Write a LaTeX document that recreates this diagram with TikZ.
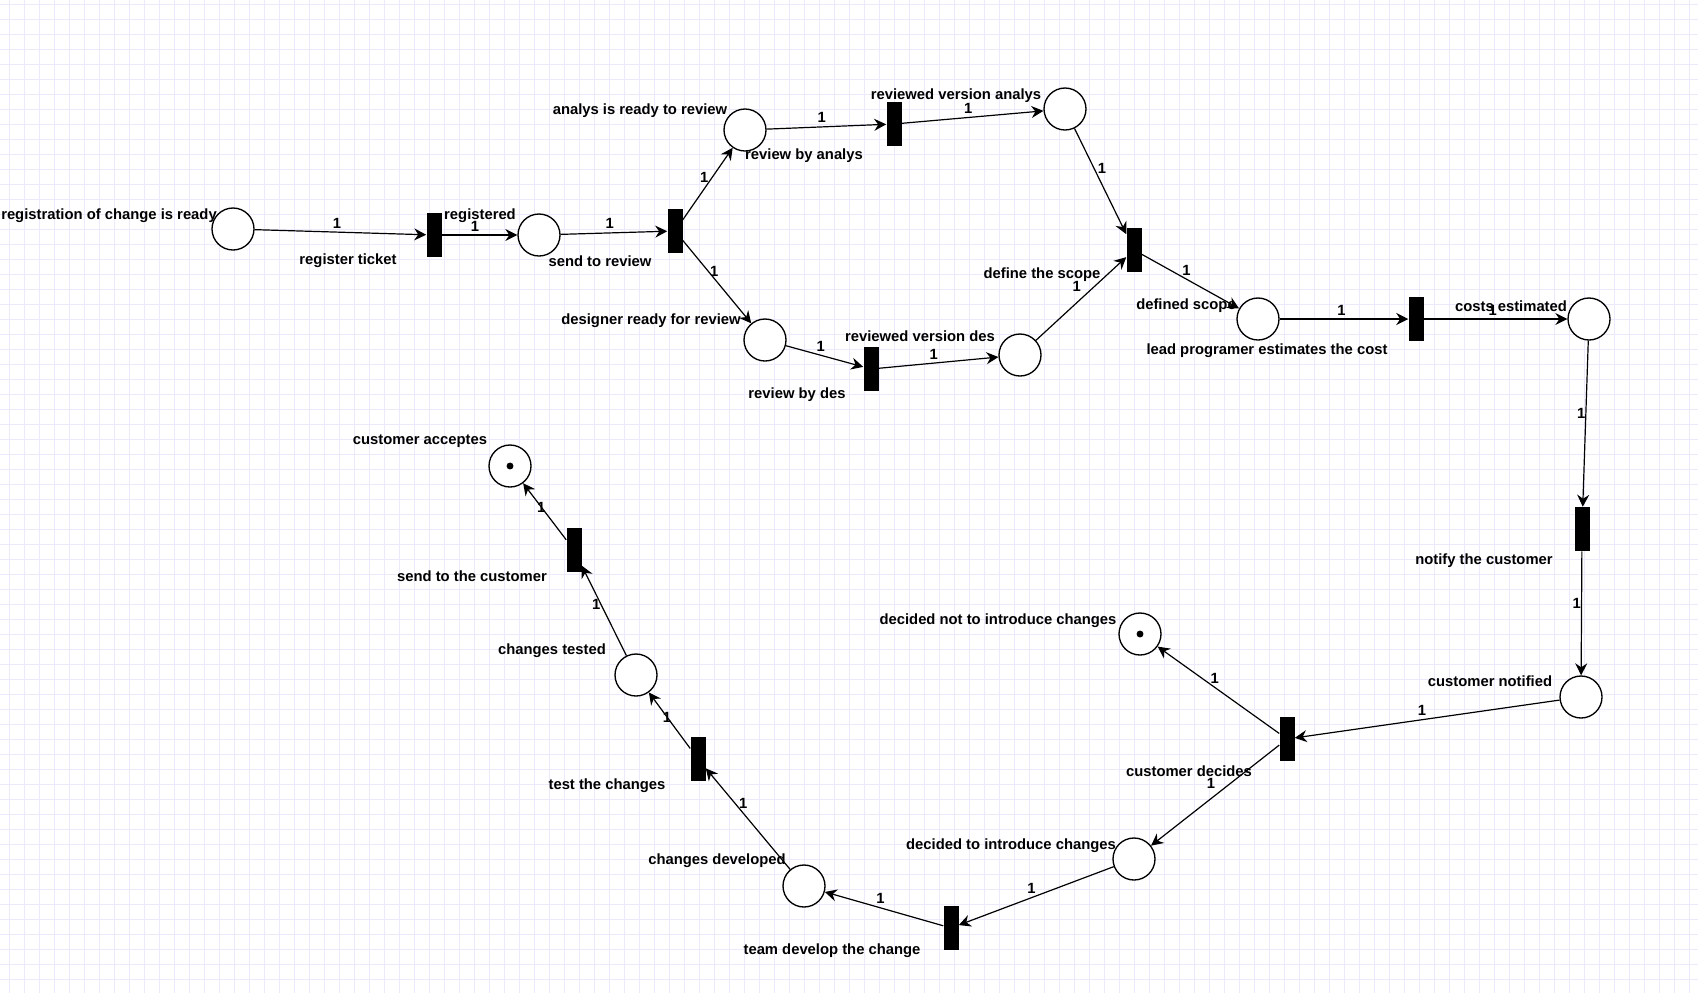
\documentclass[tikz,border=0pt]{standalone}
\usepackage{fontspec}
\setmainfont{Liberation Sans}
\usetikzlibrary{arrows.meta}
\definecolor{gridcol}{RGB}{236,233,252}

\begin{document}
\begin{tikzpicture}[x=0.75pt, y=-0.75pt,
    every node/.style={font=\fontsize{11.1}{13}\selectfont\bfseries},
    pnode/.style={circle, draw, line width=1pt, fill=white, minimum size=31.5pt, inner sep=0pt},
    tbar/.style={rectangle, fill=black, minimum width=11.25pt, minimum height=33pt, inner sep=0pt},
    flow/.style={line width=0.9pt, -{Stealth[length=9pt,width=9pt,inset=3pt]}},
    wt/.style={inner sep=2.5pt}]

    % Background and grid
    \fill[white] (0,0) rectangle (1698,993);
    \useasboundingbox (0,0) rectangle (1698,993);
    \foreach \gx in {9.5,24.5,...,1698}
        \draw[gridcol, line width=0.75pt] (\gx,0) -- (\gx,993);
    \foreach \gy in {4,19,...,993}
        \draw[gridcol, line width=0.75pt] (0,\gy) -- (1698,\gy);

    % Places
    \node[pnode] (ready) at (233,229) {};
    \node[pnode] (registered) at (539,235) {};
    \node[pnode] (analysready) at (745,130) {};
    \node[pnode] (analysdone) at (1065,109) {};
    \node[pnode] (desready) at (765,340) {};
    \node[pnode] (desdone) at (1020,355) {};
    \node[pnode] (scoped) at (1258,319) {};
    \node[pnode] (costs) at (1589,319) {};
    \node[pnode] (notified) at (1581,697) {};
    \node[pnode] (notnew) at (1140,634) {};
    \node[pnode] (tonew) at (1134,859) {};
    \node[pnode] (developed) at (804,886) {};
    \node[pnode] (tested) at (636,675) {};
    \node[pnode] (accepted) at (510,466) {};

    % Tokens
    \fill (notnew) circle[radius=2.6pt];
    \fill (accepted) circle[radius=2.6pt];

    % Transitions
    \node[tbar] (regticket) at (434,235) {};
    \node[tbar] (sendrev) at (675,231) {};
    \node[tbar] (revanalys) at (894,124) {};
    \node[tbar] (revdes) at (871,369) {};
    \node[tbar] (defscope) at (1134,250) {};
    \node[tbar] (estcost) at (1416,319) {};
    \node[tbar] (notify) at (1582,529) {};
    \node[tbar] (decides) at (1287,739) {};
    \node[tbar] (develop) at (951,928) {};
    \node[tbar] (testchg) at (698,759) {};
    \node[tbar] (sendcust) at (574,550) {};

    % Labels
    \node (ready-l) at (109,216) {registration of change is ready};
    \node (regticket-l) at (348,261) {register ticket};
    \node (registered-l) at (480,216) {registered};
    \node (sendrev-l) at (600,261) {send to review};
    \node (analysready-l) at (640,111) {analys is ready to review};
    \node (desready-l) at (651,321) {designer ready for review};
    \node (revanalys-l) at (804,156) {review by analys};
    \node (analysdone-l) at (956,96) {reviewed version analys};
    \node (desdone-l) at (920,336) {reviewed version des};
    \node (revdes-l) at (797,395) {review by des};
    \node (defscope-l) at (1042,275) {define the scope};
    \node (scoped-l) at (1186,306) {defined scope};
    \node (estcost-l) at (1267,351) {lead programer estimates the cost};
    \node (costs-l) at (1511,306) {costs estimated};
    \node (notify-l) at (1484,561) {notify the customer};
    \node (notified-l) at (1490,681) {customer notified};
    \node (notnew-l) at (998,621) {decided not to introduce changes};
    \node (decides-l) at (1189,771) {customer decides};
    \node (tonew-l) at (1011,846) {decided to introduce changes};
    \node (develop-l) at (832,951) {team develop the change};
    \node (developed-l) at (717,861) {changes developed};
    \node (testchg-l) at (607,786) {test the changes};
    \node (tested-l) at (552,651) {changes tested};
    \node (sendcust-l) at (472,576) {send to the customer};
    \node (accepted-l) at (420,441) {customer acceptes};

    % Arcs
    \draw[flow] (ready) -- node[wt, pos=.48, above] {1} (regticket);
    \draw[flow] (regticket) -- node[wt, pos=.44, above] {1} (registered);
    \draw[flow] (registered) -- node[wt, pos=.46, above] {1} (sendrev);
    \draw[flow] (sendrev) -- node[wt, pos=.59, left] {1} (analysready);
    \draw[flow] (sendrev) -- node[wt, pos=.37, right, inner sep=1pt] {1} (desready);
    \draw[flow] (analysready) -- node[wt, pos=.46, above] {1} (revanalys);
    \draw[flow] (revanalys) -- node[wt, pos=.47, above] {1} (analysdone);
    \draw[flow] (analysdone) -- node[wt, pos=.375, right] {1} (defscope);
    \draw[flow] (desready) -- node[wt, pos=.45, above] {1} (revdes);
    \draw[flow] (revdes) -- node[wt, pos=.46, above] {1} (desdone);
    \draw[flow] (desdone) -- node[wt, pos=.54, above left] {1} (defscope);
    \draw[flow] (defscope) -- node[wt, pos=.46, above] {1} (scoped);
    \draw[flow] (scoped) -- node[wt, pos=.48, above] {1} (estcost);
    \draw[flow] (estcost) -- node[wt, pos=.48, above] {1} (costs);
    \draw[flow] (costs) -- node[wt, pos=.44, left, inner sep=0pt] {1} (notify);
    \draw[flow] (notify) -- node[wt, pos=.42, left, inner sep=0pt] {1} (notified);
    \draw[flow] (notified) -- node[wt, pos=.52, above] {1} (decides);
    \draw[flow] (decides) -- node[wt, pos=.53, above] {1} (notnew);
    \draw[flow] (decides) -- node[wt, pos=.47, above left] {1} (tonew);
    \draw[flow] (tonew) -- node[wt, pos=.53, above] {1} (develop);
    \draw[flow] (develop) -- node[wt, pos=.53, above] {1} (developed);
    \draw[flow] (developed) -- node[wt, pos=.65, right] {1} (testchg);
    \draw[flow] (testchg) -- node[wt, pos=.56] {1} (tested);
    \draw[flow] (tested) -- node[wt, pos=.57, left, inner sep=0pt] {1} (sendcust);
    \draw[flow] (sendcust) -- node[wt, pos=.58] {1} (accepted);
\end{tikzpicture}
\end{document}
